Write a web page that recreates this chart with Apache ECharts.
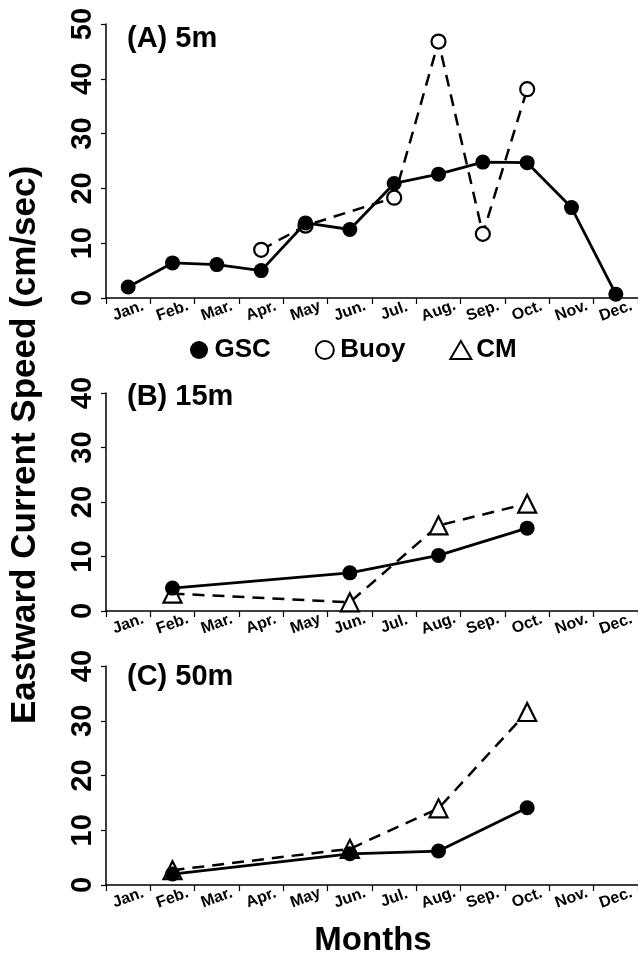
<!DOCTYPE html>
<html>
<head>
<meta charset="utf-8">
<title>Eastward Current Speed</title>
<script src="https://cdn.jsdelivr.net/npm/echarts@6/dist/echarts.min.js"></script>
<style>
    html, body { margin: 0; padding: 0; background: #fff; }
    #chart { width: 638px; height: 960px; }
</style>
</head>
<body>
<div id="chart"></div>
<script>
    // values (cm/sec)
    var months = ['Jan.', 'Feb.', 'Mar.', 'Apr.', 'May', 'Jun.', 'Jul.', 'Aug.', 'Sep.', 'Oct.', 'Nov.', 'Dec.'];
    var gsc5m = [2.0, 6.4, 6.1, 5.0, 13.7, 12.5, 20.9, 22.6, 24.8, 24.7, 16.5, 0.7];
    var buoy5m = [null, null, null, 8.8, 13.2, null, 18.3, 46.8, 11.7, 38.1, null, null];
    var gsc15m = [null, 4.2, null, null, null, 7.0, null, 10.2, null, 15.2, null, null];
    var cm15m = [null, 3.2, null, null, null, 1.6, null, 15.7, null, 19.7, null, null];
    var gsc50m = [null, 2.0, null, null, null, 5.7, null, 6.2, null, 14.1, null, null];
    var cm50m = [null, 2.7, null, null, null, 6.6, null, 14.0, null, 31.6, null, null];
    var yMax = [50, 40, 40];
    var panelNames = ['(A) 5m', '(B) 15m', '(C) 50m'];

    var FONT = "'Liberation Sans', Arial, sans-serif";

    var myChart = echarts.init(document.getElementById('chart'), null, { renderer: 'canvas' });

    // panel boxes: y tops/heights
    var grids = [
        { left: 106, width: 532, top: 24, height: 274 },
        { left: 106, width: 532, top: 393, height: 218 },
        { left: 106, width: 532, top: 666, height: 219 }
    ];

    var xAxes = [], yAxes = [];
    for (var i = 0; i < 3; i++) {
        grids[i].containLabel = false;
        grids[i].outerBoundsMode = 'none';
        xAxes.push({
            type: 'category', gridIndex: i, data: months, boundaryGap: true,
            axisLine: { show: true, onZero: false, lineStyle: { color: '#000', width: 1.5 } },
            axisTick: { show: true, length: 6, lineStyle: { color: '#000', width: 1.2 } },
            axisLabel: {
                interval: 0, rotate: 20, align: 'center', verticalAlign: 'middle', margin: 13,
                color: '#000', fontSize: 16, fontWeight: 'bold', fontFamily: FONT
            },
            splitLine: { show: false }
        });
        yAxes.push({
            type: 'value', gridIndex: i, min: 0, max: yMax[i], interval: 10,
            axisLine: { show: true, lineStyle: { color: '#000', width: 1.5 } },
            axisTick: { show: true, length: 5, lineStyle: { color: '#000', width: 1.2 } },
            axisLabel: {
                rotate: 90, margin: 9,
                color: '#000', fontSize: 29, fontWeight: 'bold', fontFamily: FONT
            },
            splitLine: { show: false }
        });
    }

    function solid(name, idx, data) {
        return {
            name: name, type: 'line', xAxisIndex: idx, yAxisIndex: idx, data: data,
            connectNulls: true, symbol: 'circle', symbolSize: 15, z: 4,
            itemStyle: { color: '#000' },
            lineStyle: { color: '#000', width: 2.8 }
        };
    }
    function dashed(name, idx, data, sym, size) {
        return {
            name: name, type: 'line', xAxisIndex: idx, yAxisIndex: idx, data: data,
            connectNulls: true, symbol: sym, symbolSize: size, z: 3,
            itemStyle: { color: '#fff', borderColor: '#000', borderWidth: 2.2 },
            lineStyle: { color: '#000', width: 2.5, type: [12, 8] }
        };
    }

    var graphics = [];
    var labelTops = [24, 382, 662];
    for (var k = 0; k < 3; k++) {
        graphics.push({
            type: 'text', left: 127, top: labelTops[k],
            style: { text: panelNames[k], fill: '#000', font: 'bold 29px ' + FONT }
        });
    }
    graphics.push({
        type: 'text', x: 25, y: 445, rotation: Math.PI / 2,
        style: {
            text: 'Eastward Current Speed (cm/sec)', fill: '#000', font: 'bold 35px ' + FONT,
            align: 'center', verticalAlign: 'middle', textAlign: 'center', textVerticalAlign: 'middle'
        }
    });
    graphics.push({
        type: 'text', x: 373, y: 941,
        style: {
            text: 'Months', fill: '#000', font: 'bold 33px ' + FONT,
            align: 'center', verticalAlign: 'middle', textAlign: 'center', textVerticalAlign: 'middle'
        }
    });

    var option = {
        animation: false,
        backgroundColor: '#fff',
        grid: grids,
        xAxis: xAxes,
        yAxis: yAxes,
        legend: {
            left: 185, top: 332, itemGap: 44, itemWidth: 21, itemHeight: 18, selectedMode: false,
            textStyle: { color: '#000', fontSize: 26, fontWeight: 'bold', fontFamily: FONT },
            data: [
                { name: 'GSC', icon: 'circle', itemStyle: { color: '#000', borderWidth: 0 } },
                { name: 'Buoy', icon: 'circle', itemStyle: { color: '#fff', borderColor: '#000', borderWidth: 2 } },
                { name: 'CM', icon: 'triangle', itemStyle: { color: '#fff', borderColor: '#000', borderWidth: 2 } }
            ]
        },
        graphic: graphics,
        series: [
            dashed('Buoy', 0, buoy5m, 'circle', 14),
            solid('GSC', 0, gsc5m),
            dashed('CM', 1, cm15m, 'triangle', 18),
            solid('GSC', 1, gsc15m),
            dashed('CM', 2, cm50m, 'triangle', 18),
            solid('GSC', 2, gsc50m)
        ]
    };

    myChart.setOption(option);
</script>
</body>
</html>
